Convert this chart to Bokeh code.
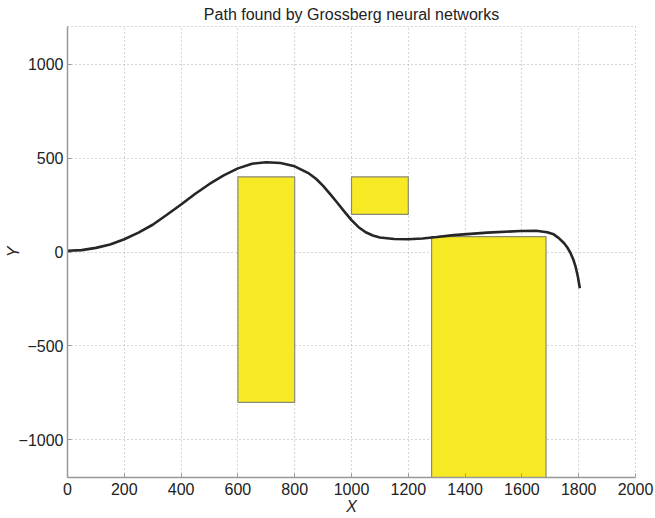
from bokeh.plotting import figure
from bokeh.models import Range1d, FixedTicker
from bokeh.embed import file_html
from bokeh.resources import INLINE

# Path found by the network
path_x = [0, 50, 100, 150, 200, 250, 300, 350, 400, 450, 500, 550, 600, 650, 700,
          750, 800, 850, 875, 900, 925, 950, 975, 1000, 1025, 1050, 1075, 1100,
          1150, 1200, 1250, 1300, 1360, 1478, 1595, 1650, 1689, 1712, 1730, 1748,
          1760, 1771, 1781, 1789, 1797, 1804]
path_y = [7, 10, 22, 40, 68, 103, 145, 198, 253, 310, 362, 408, 445, 470, 478,
          474, 456, 418, 390, 352, 308, 262, 215, 170, 132, 105, 88, 77,
          69, 68, 72, 80, 90, 103, 112, 113, 105, 94, 74, 48,
          24, -5, -40, -78, -130, -193]

# Obstacles
rect_left = [600, 1000, 1282]
rect_right = [800, 1200, 1685]
rect_bottom = [-800, 200, -1200]
rect_top = [400, 400, 82]

x_ticks = [0, 200, 400, 600, 800, 1000, 1200, 1400, 1600, 1800, 2000]
y_ticks = [-1000, -500, 0, 500, 1000]

FONT = "Liberation Sans"
FS = "16px"

p = figure(width=655, height=518, output_backend="svg", toolbar_location=None,
           x_range=Range1d(0, 2000), y_range=Range1d(-1200, 1200),
           min_border_left=67, min_border_right=20, min_border_top=26,
           min_border_bottom=41, background_fill_color="white",
           border_fill_color="white")

p.title.text = "Path found by Grossberg neural networks"
p.title.text_font = FONT
p.title.text_font_size = "16px"
p.title.text_font_style = "normal"
p.title.align = "center"
p.title.text_color = "#222222"
p.title.standoff = 7
p.title.offset = 0

p.outline_line_color = "#aaaaaa"
p.outline_line_dash = "1 3"

for ax in (p.xaxis, p.yaxis):
    ax.axis_line_color = "#999999"
    ax.axis_line_width = 1.5
    ax.major_tick_in = 4
    ax.major_tick_out = 0
    ax.major_tick_line_color = "#999999"
    ax.minor_tick_line_color = None
    ax.major_label_text_font = FONT
    ax.major_label_text_font_size = FS
    ax.major_label_text_color = "#222222"
    ax.axis_label_text_font = FONT
    ax.axis_label_text_font_size = FS
    ax.axis_label_text_font_style = "italic"
    ax.axis_label_text_color = "#222222"

p.xaxis.ticker = FixedTicker(ticks=x_ticks)
p.yaxis.ticker = FixedTicker(ticks=y_ticks)
p.yaxis.major_label_overrides = {t: ("\u2212" + str(-t) if t < 0 else str(t)) for t in y_ticks}
p.xaxis.axis_label = "X"
p.yaxis.axis_label = "Y"
p.xaxis.axis_label_standoff = 0
p.yaxis.axis_label_standoff = -6
p.xaxis.major_label_standoff = 5
p.yaxis.major_label_standoff = 4

for g in (p.xgrid, p.ygrid):
    g.grid_line_color = "#aaaaaa"
    g.grid_line_dash = "1 3"
    g.grid_line_width = 1

p.quad(left=rect_left, right=rect_right, bottom=rect_bottom, top=rect_top,
       fill_color="#f7e923", line_color="#8a8a7a", line_width=1.2)

p.line(path_x, path_y, line_color="#262626", line_width=2.6)

open("out.html", "w").write(file_html(p, INLINE))
